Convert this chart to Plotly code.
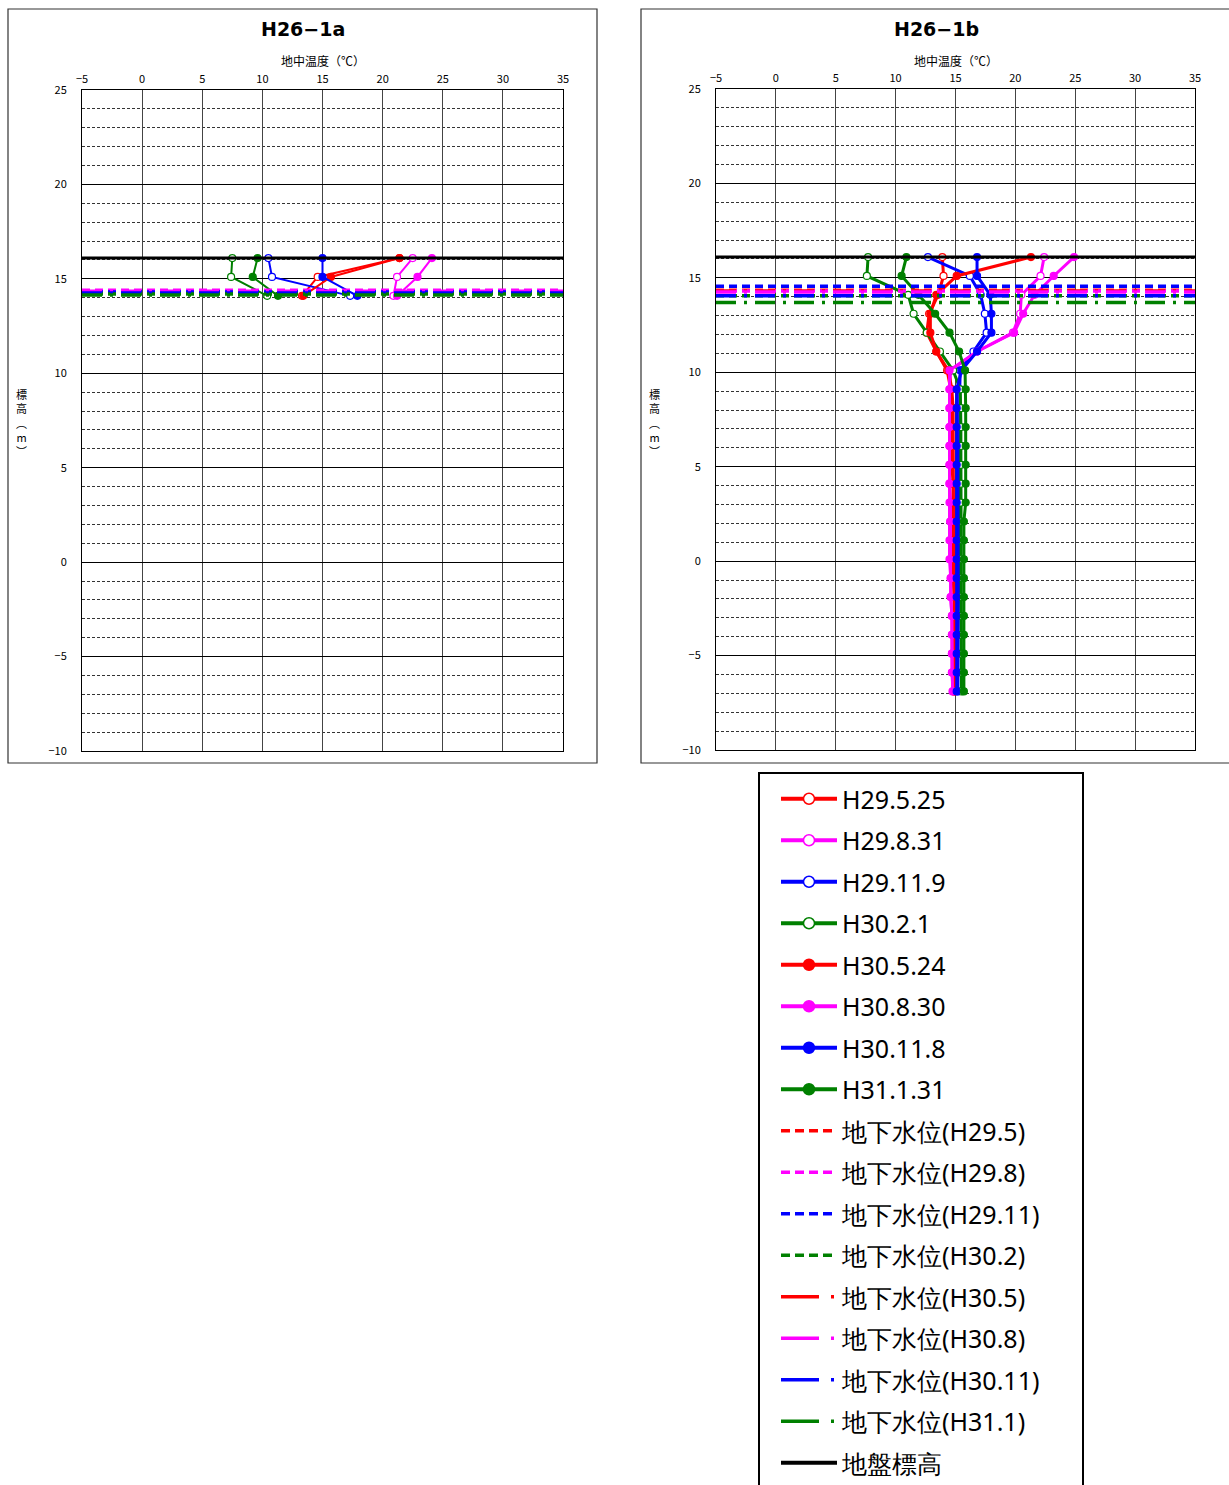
import plotly.graph_objects as go

W, H = 1229, 1485

# ---------------- data ----------------
x_ticks = [-5, 0, 5, 10, 15, 20, 25, 30, 35]
x_ticktext = ["−5", "0", "5", "10", "15", "20", "25", "30", "35"]
y_ticks = [-10, -5, 0, 5, 10, 15, 20, 25]
y_ticktext = ["−10", "−5", "0", "5", "10", "15", "20", "25"]

ground_a = 16.1
ground_b = 16.1

# H26-1a
depth_a = [16.1, 15.1, 14.1]
a_H29_5_25 = [21.4, 14.6, 13.3]
a_H29_8_31 = [22.5, 21.2, 20.9]
a_H29_11_9 = [10.5, 10.8, 17.3]
a_H30_2_1 = [7.5, 7.4, 10.4]
a_H30_5_24 = [21.4, 15.7, 13.4]
a_H30_8_30 = [24.1, 22.9, 21.2]
a_H30_11_8 = [15.0, 15.0, 17.9]
a_H31_1_31 = [9.6, 9.2, 11.3]
a_wl = [14.35, 14.4, 14.3, 14.2, 14.3, 14.35, 14.25, 14.15]

# H26-1b
depth_b = [16.1, 15.1, 14.1, 13.1, 12.1, 11.1, 10.1, 9.1, 8.1, 7.1, 6.1, 5.1,
           4.1, 3.1, 2.1, 1.1, 0.1, -0.9, -1.9, -2.9, -3.9, -4.9, -5.9, -6.9]
b_H29_5_25 = [13.9, 14.0, 13.55, 12.8, 12.6, 13.4, 14.3, 14.6, 14.7, 14.7, 14.7, 14.7,
              14.8, 14.8, 14.8, 14.8, 14.8, 14.8, 14.9, 14.9, 14.9, 14.9, 14.9, 14.9]
b_H29_8_31 = [22.4, 22.1, 20.5, 20.4, 19.8, 16.8, 14.6, 14.5, 14.5, 14.5, 14.5, 14.5,
              14.5, 14.6, 14.6, 14.6, 14.6, 14.6, 14.6, 14.7, 14.7, 14.7, 14.7, 14.8]
b_H29_11_9 = [12.7, 16.2, 17.1, 17.45, 17.6, 16.5, 15.4, 15.35, 15.35, 15.35, 15.35, 15.35,
              15.3, 15.3, 15.3, 15.3, 15.3, 15.3, 15.25, 15.25, 15.25, 15.2, 15.2, 15.2]
b_H30_2_1 = [7.7, 7.6, 11.05, 11.5, 12.6, 13.7, 14.8, 15.4, 15.45, 15.45, 15.45, 15.45,
             15.45, 15.45, 15.5, 15.5, 15.5, 15.5, 15.5, 15.5, 15.5, 15.5, 15.5, 15.5]
b_H30_5_24 = [21.3, 15.1, 13.4, 12.9, 12.9, 13.4, 14.4, 14.7, 14.8, 14.8, 14.8, 14.8,
              14.8, 14.85, 14.85, 14.85, 14.85, 14.85, 14.9, 14.9, 14.9, 14.9, 14.9, 14.9]
b_H30_8_30 = [24.9, 23.2, 21.6, 20.65, 19.9, 16.8, 14.5, 14.5, 14.5, 14.5, 14.5, 14.5,
              14.5, 14.5, 14.55, 14.5, 14.5, 14.6, 14.6, 14.7, 14.7, 14.7, 14.7, 14.75]
b_H30_11_8 = [16.8, 16.8, 17.9, 18.0, 18.0, 16.8, 15.5, 15.1, 15.1, 15.1, 15.1, 15.1,
              15.1, 15.1, 15.1, 15.1, 15.1, 15.1, 15.1, 15.1, 15.1, 15.1, 15.1, 15.1]
b_H31_1_31 = [10.9, 10.5, 11.9, 13.3, 14.5, 15.3, 15.8, 15.85, 15.85, 15.85, 15.85, 15.85,
              15.85, 15.85, 15.7, 15.7, 15.7, 15.7, 15.7, 15.7, 15.7, 15.7, 15.7, 15.7]
b_wl = [14.35, 14.3, 14.55, 14.05, 14.3, 14.25, 14.05, 13.7]

series_names = ["H29.5.25", "H29.8.31", "H29.11.9", "H30.2.1",
                "H30.5.24", "H30.8.30", "H30.11.8", "H31.1.31"]
series_colors = ["#ff0000", "#ff00ff", "#0000ff", "#008000",
                 "#ff0000", "#ff00ff", "#0000ff", "#008000"]
series_open = [True, True, True, True, False, False, False, False]
wl_names = ["地下水位(H29.5)", "地下水位(H29.8)", "地下水位(H29.11)", "地下水位(H30.2)",
            "地下水位(H30.5)", "地下水位(H30.8)", "地下水位(H30.11)", "地下水位(H31.1)"]
wl_dash = ["8px,5px", "8px,5px", "8px,5px", "8px,5px",
           "20px,8px,3px,8px", "20px,8px,3px,8px", "20px,8px,3px,8px", "20px,8px,3px,8px"]
legend_wl_dash = ["9px,5px", "9px,5px", "9px,5px", "9px,5px",
                  "38px,12px,3px,12px", "38px,12px,3px,12px", "38px,12px,3px,12px", "38px,12px,3px,12px"]

a_series = [a_H29_5_25, a_H29_8_31, a_H29_11_9, a_H30_2_1,
            a_H30_5_24, a_H30_8_30, a_H30_11_8, a_H31_1_31]
b_series = [b_H29_5_25, b_H29_8_31, b_H29_11_9, b_H30_2_1,
            b_H30_5_24, b_H30_8_30, b_H30_11_8, b_H31_1_31]

FONT = "Noto Sans CJK JP"

fig = go.Figure()

def px_x(p):
    return p / W

def px_y(p):
    return 1 - p / H

xr = [x_ticks[0], x_ticks[-1]]

def add_panel(xa, ya, depth, series, wl, ground, lw):
    for i, s in enumerate(series):
        fig.add_trace(go.Scatter(
            x=s, y=depth, mode="lines+markers", name=series_names[i],
            showlegend=False,
            line=dict(color=series_colors[i], width=lw),
            marker=dict(symbol="circle", size=7,
                        color="white" if series_open[i] else series_colors[i],
                        line=dict(color=series_colors[i], width=1.2)),
            xaxis=xa, yaxis=ya))
    for i, w in enumerate(wl):
        fig.add_trace(go.Scatter(
            x=xr, y=[w, w], mode="lines", name=wl_names[i],
            showlegend=False,
            line=dict(color=series_colors[i], width=3.5, dash=wl_dash[i]),
            xaxis=xa, yaxis=ya))
    fig.add_trace(go.Scatter(
        x=xr, y=[ground, ground], mode="lines", name="地盤標高",
        showlegend=False,
        line=dict(color="black", width=3),
        xaxis=xa, yaxis=ya))

add_panel("x", "y", depth_a, a_series, a_wl, ground_a, 2)
add_panel("x2", "y2", depth_b, b_series, b_wl, ground_b, 3)

# legend entries (same styles, drawn larger as in the original legend)
for i, nm in enumerate(series_names):
    fig.add_trace(go.Scatter(
        x=[None], y=[None], mode="lines+markers", name=nm, legendgroup=nm,
        line=dict(color=series_colors[i], width=4),
        marker=dict(symbol="circle", size=11,
                    color="white" if series_open[i] else series_colors[i],
                    line=dict(color=series_colors[i], width=1.5)),
        xaxis="x2", yaxis="y2"))
for i, nm in enumerate(wl_names):
    fig.add_trace(go.Scatter(
        x=[None], y=[None], mode="lines", name=nm, legendgroup=nm,
        line=dict(color=series_colors[i], width=3.5, dash=legend_wl_dash[i]),
        xaxis="x2", yaxis="y2"))
fig.add_trace(go.Scatter(
    x=[None], y=[None], mode="lines", name="地盤標高", legendgroup="地盤標高",
    line=dict(color="black", width=4), xaxis="x2", yaxis="y2"))

def xaxis_cfg(domain, anchor):
    return dict(domain=domain, anchor=anchor, side="top", range=xr,
                tickmode="array", tickvals=x_ticks, ticktext=x_ticktext,
                showgrid=True, gridcolor="#444", gridwidth=1, zeroline=False,
                showline=True, linecolor="black", linewidth=1, mirror=True,
                ticks="", tickfont=dict(size=11, color="black", family=FONT),
                ticklabelstandoff=2, fixedrange=True)

def yaxis_cfg(domain, anchor):
    return dict(domain=domain, anchor=anchor, range=[-10, 25],
                tickmode="array", tickvals=y_ticks, ticktext=y_ticktext,
                showgrid=True, gridcolor="black", gridwidth=1, zeroline=False,
                showline=True, linecolor="black", linewidth=1, mirror=True,
                ticks="", tickfont=dict(size=11, color="black", family=FONT),
                ticklabelstandoff=12,
                minor=dict(dtick=1, tick0=0, showgrid=True, gridcolor="#333",
                           griddash="3px,2px", gridwidth=0.8),
                fixedrange=True)

fig.update_layout(
    width=W, height=H,
    margin=dict(l=0, r=0, t=0, b=0, pad=0, autoexpand=False),
    paper_bgcolor="white", plot_bgcolor="white",
    font=dict(family=FONT, color="black"),
    xaxis=xaxis_cfg([px_x(82), px_x(563)], "y"),
    yaxis=yaxis_cfg([px_y(751), px_y(90)], "x"),
    xaxis2=xaxis_cfg([px_x(716), px_x(1195)], "y2"),
    yaxis2=yaxis_cfg([px_y(750), px_y(89)], "x2"),
    showlegend=True,
    legend=dict(x=px_x(776), y=px_y(776), xanchor="left", yanchor="top",
                borderwidth=0, bgcolor="rgba(0,0,0,0)",
                font=dict(size=25, family="Noto Sans", color="black"),
                tracegroupgap=6, traceorder="grouped", itemwidth=56,
                entrywidth=290),
)

# frames
for (x0, y0, x1, y1) in [(8, 9, 597, 763), (641, 9, 1235, 763)]:
    fig.add_shape(type="rect", xref="paper", yref="paper",
                  x0=px_x(x0), y0=px_y(y1), x1=px_x(x1), y1=px_y(y0),
                  line=dict(color="#333", width=1.2))
# legend box
fig.add_shape(type="rect", xref="paper", yref="paper",
              x0=px_x(759), y0=px_y(1492), x1=px_x(1083), y1=px_y(773),
              line=dict(color="black", width=2), layer="below")

# titles and axis titles
for cx, title in [(303, "H26−1a"), (936, "H26−1b")]:
    fig.add_annotation(x=px_x(cx), y=px_y(29), xref="paper", yref="paper",
                       xanchor="center", yanchor="middle",
                       text="<b>" + title + "</b>", showarrow=False,
                       font=dict(size=19, family="DejaVu Sans", color="black"))
    fig.add_annotation(x=px_x(cx + 20), y=px_y(60), xref="paper", yref="paper",
                       xanchor="center", yanchor="middle",
                       text="地中温度（℃）", showarrow=False,
                       font=dict(size=12, family=FONT, color="black"))
for cx in [21, 654]:
    fig.add_annotation(x=px_x(cx), y=px_y(422), xref="paper", yref="paper",
                       xanchor="center", yanchor="middle",
                       text="標<br>高<br>︵<br>m<br>︶", showarrow=False,
                       font=dict(size=11, family=FONT, color="black"))

fig.write_html("out.html", config={"displayModeBar": False},
               post_script="document.body.style.margin='0px';")
